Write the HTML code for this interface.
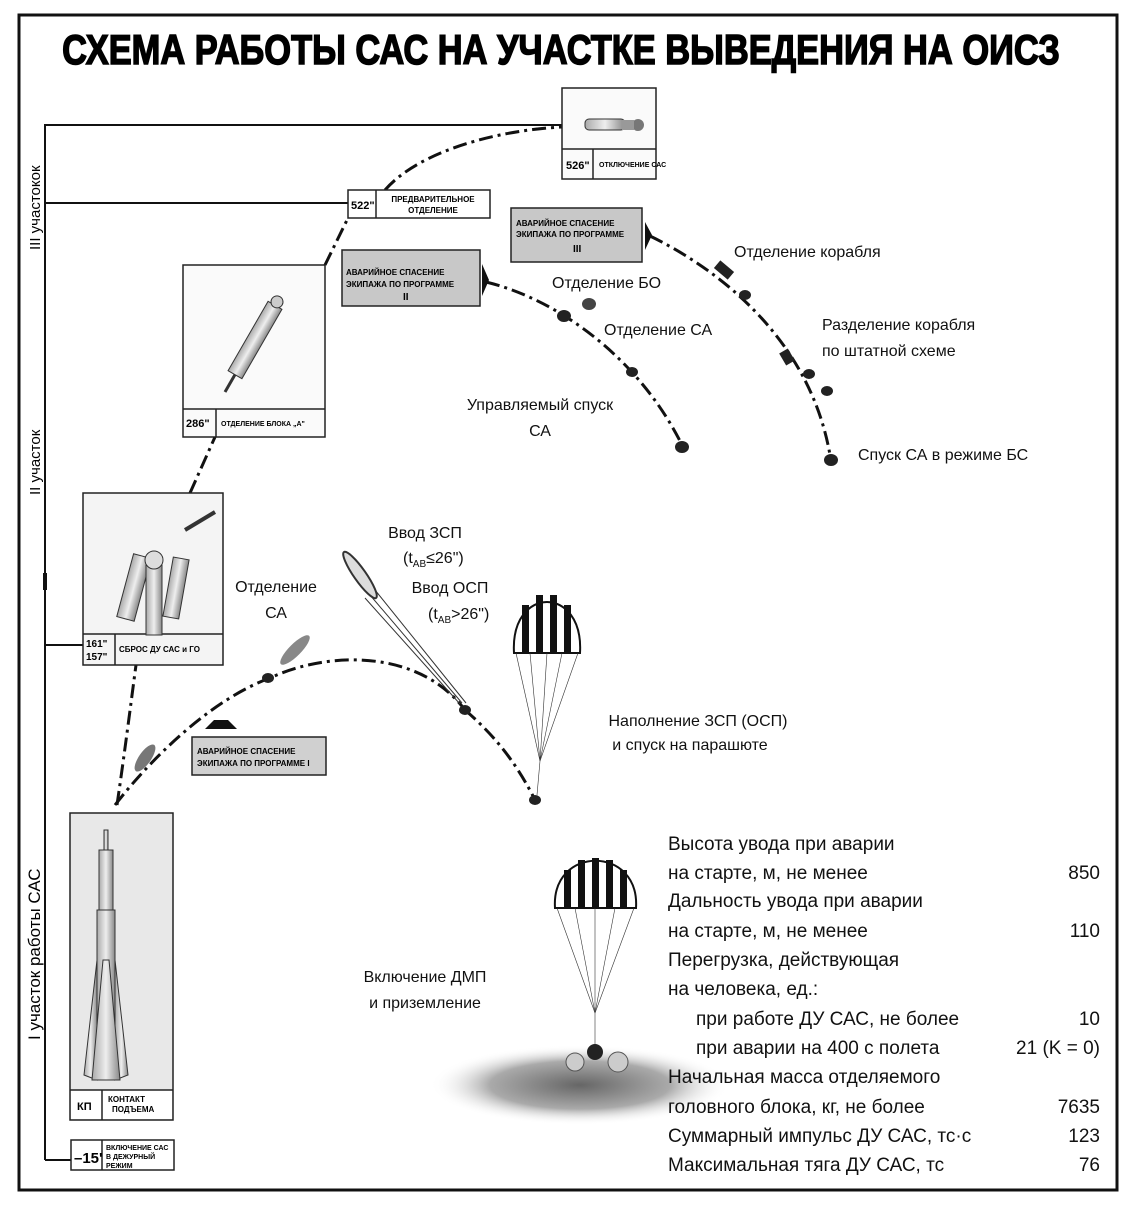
<!DOCTYPE html>
<html><head><meta charset="utf-8"><style>
html,body{margin:0;padding:0;background:#fff;}
body{width:1123px;height:1200px;overflow:hidden;}
svg text{font-family:"Liberation Sans",sans-serif;}
</style></head><body>
<svg width="1123" height="1200" viewBox="0 0 1123 1200" xmlns="http://www.w3.org/2000/svg">
<defs>
<linearGradient id="g1" x1="0" x2="1"><stop offset="0" stop-color="#aaa"/><stop offset="0.5" stop-color="#eee"/><stop offset="1" stop-color="#888"/></linearGradient>
<radialGradient id="sh" cx="0.5" cy="0.5" r="0.5"><stop offset="0" stop-color="#666"/><stop offset="0.6" stop-color="#aaa"/><stop offset="1" stop-color="#fff" stop-opacity="0"/></radialGradient>
</defs>
<rect x="19" y="15" width="1098" height="1175" fill="none" stroke="#111" stroke-width="3"/>
<text x="561" y="64" text-anchor="middle" font-size="42" font-weight="bold" transform="translate(561 0) scale(0.82 1) translate(-561 0)" stroke="#000" stroke-width="1.5">СХЕМА РАБОТЫ  САС НА УЧАСТКЕ ВЫВЕДЕНИЯ НА ОИСЗ</text>
<g stroke="#111" stroke-width="2" fill="none">
<line x1="45" y1="124" x2="45" y2="1160"/>
<line x1="45" y1="125" x2="562" y2="125"/>
<line x1="45" y1="203" x2="348" y2="203"/>
<line x1="45" y1="645" x2="83" y2="645"/>
<line x1="45" y1="1160" x2="71" y2="1160"/>
<line x1="45" y1="573" x2="45" y2="590" stroke-width="4"/>
</g>
<text transform="translate(40 250) rotate(-90)" font-size="15">III участокок</text>
<text transform="translate(40 495) rotate(-90)" font-size="15">II участок</text>
<text transform="translate(40 1040) rotate(-90)" font-size="17">I участок работы САС</text>

<g stroke="#111" stroke-width="3" fill="none" stroke-dasharray="14 5 3 5">
<path d="M117 805 C125 750 130 710 136 665"/>
<path d="M115 805 C150 760 210 700 270 678 C330 650 420 650 465 710"/>
<path d="M465 710 C500 740 520 770 535 800"/>
<path d="M190 493 L215 437"/>
<path d="M325 265 L348 218"/>
<path d="M385 190 C420 150 500 130 562 127"/>
<path d="M486 282 C560 300 640 360 682 445"/>
<path d="M650 236 C720 270 810 340 830 455"/>
</g>

<rect x="562" y="88" width="94" height="91" fill="#fafafa" stroke="#222" stroke-width="1.5"/>
<line x1="562" y1="149" x2="656" y2="149" stroke="#222" stroke-width="1.5"/>
<line x1="593" y1="149" x2="593" y2="179" stroke="#222" stroke-width="1.5"/>
<text x="566" y="169" font-size="11" font-weight="bold">526"</text>
<text x="599" y="167" font-size="7" font-weight="bold">ОТКЛЮЧЕНИЕ САС</text>
<g><rect x="585" y="119" width="40" height="11" rx="4" fill="url(#g1)" stroke="#333"/><circle cx="638" cy="125" r="6" fill="#777"/><rect x="622" y="120" width="12" height="10" fill="#999"/></g>

<rect x="348" y="190" width="142" height="28" fill="#fff" stroke="#222" stroke-width="1.5"/>
<line x1="376" y1="190" x2="376" y2="218" stroke="#222" stroke-width="1.5"/>
<text x="351" y="209" font-size="11" font-weight="bold">522"</text>
<text x="433" y="202" font-size="8" font-weight="bold" text-anchor="middle">ПРЕДВАРИТЕЛЬНОЕ</text>
<text x="433" y="213" font-size="8" font-weight="bold" text-anchor="middle">ОТДЕЛЕНИЕ</text>

<rect x="511" y="208" width="131" height="54" fill="#c8c8c8" stroke="#222" stroke-width="1.5"/>
<text x="516" y="226" font-size="8" font-weight="bold">АВАРИЙНОЕ СПАСЕНИЕ</text>
<text x="516" y="237" font-size="8" font-weight="bold">ЭКИПАЖА ПО ПРОГРАММЕ</text>
<text x="573" y="252" font-size="10" font-weight="bold">III</text>
<polygon points="645,222 652,235 645,250" fill="#111"/>

<rect x="342" y="250" width="138" height="56" fill="#c8c8c8" stroke="#222" stroke-width="1.5"/>
<text x="346" y="275" font-size="8" font-weight="bold">АВАРИЙНОЕ СПАСЕНИЕ</text>
<text x="346" y="287" font-size="8" font-weight="bold">ЭКИПАЖА  ПО ПРОГРАММЕ</text>
<text x="403" y="300" font-size="10" font-weight="bold">II</text>
<polygon points="482,264 489,280 482,296" fill="#111"/>

<rect x="183" y="265" width="142" height="172" fill="#fafafa" stroke="#222" stroke-width="1.5"/>
<line x1="183" y1="409" x2="325" y2="409" stroke="#222" stroke-width="1.5"/>
<line x1="216" y1="409" x2="216" y2="437" stroke="#222" stroke-width="1.5"/>
<text x="186" y="427" font-size="11" font-weight="bold">286"</text>
<text x="221" y="426" font-size="7" font-weight="bold">ОТДЕЛЕНИЕ БЛОКА „А"</text>
<g transform="rotate(30 255 340)"><rect x="247" y="300" width="16" height="80" fill="url(#g1)" stroke="#333"/><circle cx="255" cy="296" r="6" fill="#ccc" stroke="#333"/><line x1="255" y1="380" x2="255" y2="400" stroke="#333" stroke-width="3"/></g>

<rect x="83" y="493" width="140" height="172" fill="#f4f4f4" stroke="#222" stroke-width="1.5"/>
<line x1="83" y1="634" x2="223" y2="634" stroke="#222" stroke-width="1.5"/>
<line x1="115" y1="634" x2="115" y2="665" stroke="#222" stroke-width="1.5"/>
<text x="86" y="647" font-size="10" font-weight="bold">161"</text>
<text x="86" y="660" font-size="10" font-weight="bold">157"</text>
<text x="119" y="652" font-size="8" font-weight="bold">СБРОС ДУ САС и ГО</text>
<rect x="125" y="555" width="18" height="65" fill="url(#g1)" stroke="#333" transform="rotate(15 134 587)"/>
<rect x="146" y="565" width="16" height="70" fill="url(#g1)" stroke="#333"/>
<circle cx="154" cy="560" r="9" fill="#ddd" stroke="#333"/>
<rect x="168" y="558" width="16" height="60" fill="url(#g1)" stroke="#333" transform="rotate(10 176 588)"/>
<line x1="185" y1="530" x2="215" y2="512" stroke="#333" stroke-width="4"/>

<polygon points="205,729 237,729 228,720 214,720" fill="#111"/>
<rect x="192" y="737" width="134" height="38" fill="#d0d0d0" stroke="#222" stroke-width="1.5"/>
<text x="197" y="754" font-size="8" font-weight="bold">АВАРИЙНОЕ СПАСЕНИЕ</text>
<text x="197" y="766" font-size="8" font-weight="bold">ЭКИПАЖА ПО ПРОГРАММЕ I</text>

<rect x="70" y="813" width="103" height="307" fill="#e8e8e8" stroke="#222" stroke-width="1.5"/>
<rect x="71" y="1090" width="101" height="29" fill="#fff"/>
<line x1="70" y1="1090" x2="173" y2="1090" stroke="#222" stroke-width="1.5"/>
<line x1="102" y1="1090" x2="102" y2="1120" stroke="#222" stroke-width="1.5"/>
<text x="77" y="1110" font-size="11" font-weight="bold">КП</text>
<text x="108" y="1102" font-size="8" font-weight="bold">КОНТАКТ</text>
<text x="112" y="1112" font-size="8" font-weight="bold">ПОДЪЕМА</text>
<g stroke="#333" fill="url(#g1)">
<rect x="104" y="830" width="4" height="20"/>
<rect x="99" y="850" width="14" height="60"/>
<rect x="97" y="910" width="18" height="170"/>
<polygon points="97,960 84,1075 97,1080"/>
<polygon points="115,960 128,1075 115,1080"/>
<polygon points="103,960 92,1080 120,1080 109,960"/>
</g>

<rect x="71" y="1140" width="103" height="30" fill="#fff" stroke="#222" stroke-width="1.5"/>
<line x1="102" y1="1140" x2="102" y2="1170" stroke="#222" stroke-width="1.5"/>
<text x="74" y="1163" font-size="15" font-weight="bold">–15'</text>
<text x="106" y="1150" font-size="7" font-weight="bold">ВКЛЮЧЕНИЕ САС</text>
<text x="106" y="1159" font-size="7" font-weight="bold">В ДЕЖУРНЫЙ</text>
<text x="106" y="1168" font-size="7" font-weight="bold">РЕЖИМ</text>

<g fill="#222">
<ellipse cx="145" cy="758" rx="16" ry="6" transform="rotate(-55 145 758)" fill="#777"/>
<ellipse cx="295" cy="650" rx="20" ry="6" transform="rotate(-45 295 650)" fill="#888"/>
<ellipse cx="268" cy="678" rx="6" ry="5"/>
<ellipse cx="465" cy="710" rx="6" ry="5"/>
<ellipse cx="535" cy="800" rx="6" ry="5"/>
<ellipse cx="564" cy="316" rx="7" ry="6"/>
<ellipse cx="589" cy="304" rx="7" ry="6" fill="#444"/>
<ellipse cx="632" cy="372" rx="6" ry="5"/>
<ellipse cx="682" cy="447" rx="7" ry="6"/>
<rect x="715" y="265" width="18" height="10" transform="rotate(40 724 270)"/>
<ellipse cx="745" cy="295" rx="6" ry="5"/>
<rect x="780" y="352" width="14" height="10" transform="rotate(60 787 357)"/>
<ellipse cx="809" cy="374" rx="6" ry="5"/>
<ellipse cx="827" cy="391" rx="6" ry="5"/>
<ellipse cx="831" cy="460" rx="7" ry="6"/>
</g>
<g stroke="#333" stroke-width="1" fill="none">
<ellipse cx="360" cy="575" rx="6" ry="28" transform="rotate(-35 360 575)" fill="#ddd" stroke-width="2"/>
<line x1="370" y1="595" x2="462" y2="703"/><line x1="375" y1="590" x2="466" y2="703"/><line x1="365" y1="598" x2="460" y2="704"/>
</g>
<g>
<path d="M514 653 C510 585 584 585 580 653 Z" fill="#fff" stroke="#111" stroke-width="2"/>
<g fill="#111"><rect x="522" y="605" width="7" height="48"/><rect x="536" y="595" width="7" height="58"/><rect x="550" y="595" width="7" height="58"/><rect x="564" y="605" width="7" height="48"/></g>
<g stroke="#333" stroke-width="0.6"><line x1="516" y1="653" x2="540" y2="761"/><line x1="578" y1="653" x2="540" y2="761"/><line x1="530" y1="653" x2="540" y2="761"/><line x1="562" y1="653" x2="540" y2="761"/><line x1="547" y1="653" x2="540" y2="761"/><line x1="540" y1="761" x2="537" y2="795"/></g>
</g>
<ellipse cx="580" cy="1085" rx="150" ry="40" fill="url(#sh)"/>
<g>
<path d="M555 908 C551 845 640 845 636 908 Z" fill="#fff" stroke="#111" stroke-width="2"/>
<g fill="#111"><rect x="564" y="870" width="7" height="38"/><rect x="578" y="860" width="7" height="48"/><rect x="592" y="858" width="7" height="50"/><rect x="606" y="860" width="7" height="48"/><rect x="620" y="870" width="7" height="38"/></g>
<g stroke="#333" stroke-width="0.6"><line x1="557" y1="908" x2="595" y2="1013"/><line x1="634" y1="908" x2="595" y2="1013"/><line x1="575" y1="908" x2="595" y2="1013"/><line x1="615" y1="908" x2="595" y2="1013"/><line x1="595" y1="908" x2="595" y2="1045"/></g>
<circle cx="595" cy="1052" r="8" fill="#222"/>
<circle cx="575" cy="1062" r="9" fill="#ccc" stroke="#555"/><circle cx="618" cy="1062" r="10" fill="#ccc" stroke="#555"/>
</g>

<g font-size="16" fill="#111">
<text x="734" y="257">Отделение корабля</text>
<text x="552" y="288">Отделение БО</text>
<text x="604" y="335">Отделение СА</text>
<text x="822" y="330">Разделение корабля</text>
<text x="822" y="356">по штатной схеме</text>
<text x="540" y="410" text-anchor="middle">Управляемый спуск</text>
<text x="540" y="436" text-anchor="middle">СА</text>
<text x="858" y="460">Спуск СА в режиме БС</text>
<text x="425" y="538" text-anchor="middle">Ввод ЗСП</text>
<text x="403" y="563">(t<tspan font-size="10" dy="4">AB</tspan><tspan dy="-4">≤26")</tspan></text>
<text x="450" y="593" text-anchor="middle">Ввод ОСП</text>
<text x="428" y="619">(t<tspan font-size="10" dy="4">AB</tspan><tspan dy="-4">&gt;26")</tspan></text>
<text x="276" y="592" text-anchor="middle">Отделение</text>
<text x="276" y="618" text-anchor="middle">СА</text>
<text x="698" y="726" text-anchor="middle">Наполнение ЗСП (ОСП)</text>
<text x="690" y="750" text-anchor="middle">и спуск на парашюте</text>
<text x="425" y="982" text-anchor="middle">Включение ДМП</text>
<text x="425" y="1008" text-anchor="middle">и приземление</text>
</g>
<g font-size="19" fill="#111">
<text x="668" y="850">Высота увода при аварии</text>
<text x="668" y="879">на старте, м, не менее</text><text x="1100" y="879" text-anchor="end">850</text>
<text x="668" y="907">Дальность увода при аварии</text>
<text x="668" y="937">на старте, м, не менее</text><text x="1100" y="937" text-anchor="end">110</text>
<text x="668" y="966">Перегрузка, действующая</text>
<text x="668" y="995">на человека, ед.:</text>
<text x="696" y="1025">при работе ДУ САС, не более</text><text x="1100" y="1025" text-anchor="end">10</text>
<text x="696" y="1054">при аварии на 400 с полета</text><text x="1100" y="1054" text-anchor="end">21 (K = 0)</text>
<text x="668" y="1083">Начальная масса отделяемого</text>
<text x="668" y="1113">головного блока, кг, не более</text><text x="1100" y="1113" text-anchor="end">7635</text>
<text x="668" y="1142">Суммарный импульс ДУ САС, тс·с</text><text x="1100" y="1142" text-anchor="end">123</text>
<text x="668" y="1171">Максимальная тяга ДУ САС, тс</text><text x="1100" y="1171" text-anchor="end">76</text>
</g>
</svg>
</body></html>
